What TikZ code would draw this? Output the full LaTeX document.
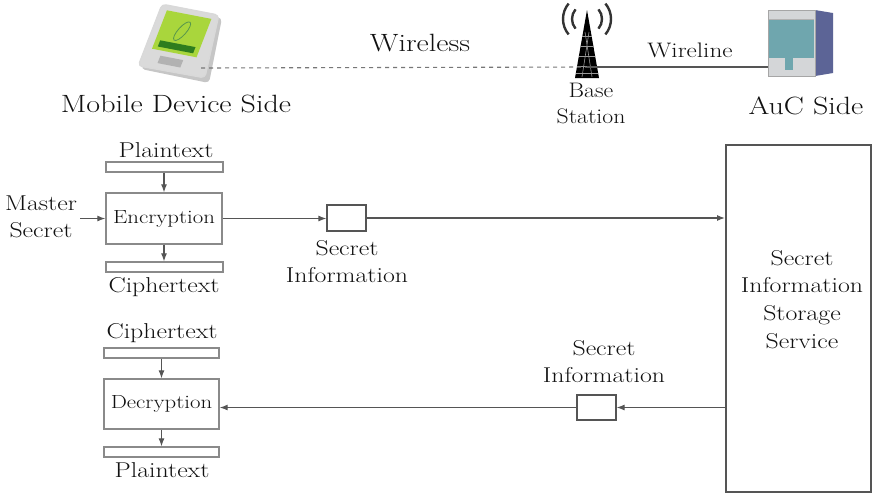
\documentclass[tikz,border=0pt]{standalone}
\usepackage{graphicx}
\usetikzlibrary{arrows.meta}
\definecolor{ink}{HTML}{111111}
\definecolor{wire}{HTML}{555555}
\definecolor{boxline}{HTML}{8A8A8A}
\definecolor{screen}{HTML}{A9D63C}
\definecolor{screendark}{HTML}{2E7D1E}
\definecolor{devbody}{HTML}{DADADA}
\definecolor{srvfront}{HTML}{D4D6D8}
\definecolor{srvteal}{HTML}{6FA6AE}
\definecolor{srvside}{HTML}{5C6496}
% widened lettering
\newcommand{\widen}[1]{\scalebox{1.2}[1]{#1}}
\newcommand{\widenb}[1]{\scalebox{1.13}[1]{#1}}
\tikzset{
  txt/.style={anchor=base, inner sep=0pt, text=ink},
  big/.style={txt, font=\fontsize{25}{30}\selectfont},
  mid/.style={txt, font=\fontsize{21.5}{26}\selectfont},
  sml/.style={txt, font=\fontsize{21}{25}\selectfont},
  boxtxt/.style={font=\fontsize{19}{23}\selectfont, text=ink},
  bar/.style={draw=boxline, line width=1.3pt, fill=white, inner sep=0pt},
  procbox/.style={draw=boxline, line width=1.3pt, fill=white, inner sep=0pt},
  databox/.style={draw=wire, line width=1.2pt, fill=white, inner sep=0pt},
  flow/.style={draw=wire, line width=1.2pt, -{Latex[length=8pt,width=6pt]}},
  link/.style={draw=wire, line width=1.2pt},
}
\begin{document}
\begin{tikzpicture}[x=1pt,y=-1pt]
\useasboundingbox[fill=white] (0,0) rectangle (874,496);

% ---- mobile device icon ----
\fill[gray!45, rounded corners=4pt] (165,7) -- (222,18) -- (209,83) -- (141,69) -- cycle;
\filldraw[fill=devbody, draw=gray!30, line width=1pt, rounded corners=4pt]
  (162,4) -- (219,15) -- (205,78) -- (138,66) -- cycle;
\fill[screen] (166.9,10.3) -- (211.4,18.9) -- (196.5,57.3) -- (152.0,48.7) -- cycle;
\fill[screendark] (160.2,40.3) -- (195.5,47.1) -- (193.1,53.3) -- (157.8,46.5) -- cycle;
\draw[screendark!80, line width=0.8pt] (182.1,31.2) ellipse[x radius=12, y radius=4, rotate=48];
\fill[gray!60] (160.4,55.7) -- (183.2,60.1) -- (180.3,67.5) -- (157.5,63.1) -- cycle;

% ---- base station tower ----
\coordinate (bs) at (587,67);
\foreach \r in {15,24}{
  \draw[gray!40!black, line width=2.4pt] (587,19) ++(180-40:\r) arc[start angle=180-40, end angle=180+40, radius=\r];
  \draw[gray!40!black, line width=2.4pt] (587,19) ++(-40:\r) arc[start angle=-40, end angle=40, radius=\r];
}
\fill[black] (587,10) -- (599,78) -- (575,78) -- cycle;
\foreach \yy in {36,46,56,66,73}{
  \draw[gray!80, line width=0.7pt] ({587-(\yy-10)*12/68},\yy) -- ({587+(\yy-10)*12/68},\yy);
}
\draw[gray!80, line width=0.6pt] (585,32) -- (592,77) (589,32) -- (582,77);

% ---- AuC server ----
\coordinate (srv) at (768,67);
\fill[srvside] (815,10) -- (833,13) -- (833,73) -- (815,76) -- cycle;
\filldraw[fill=srvfront, draw=gray!70, line width=0.8pt] (768,10) rectangle (815,76);
\fill[srvteal] (769,19) rectangle (814,58);
\fill[srvteal] (785,58) rectangle (793,70);
\draw[gray!60, line width=0.6pt] (769,19) -- (814,19);

% ---- radio links ----
\draw[wire!80, line width=1.1pt, dash pattern=on 4pt off 4pt] (201,68) -- (bs);
\draw[link, line width=1.6pt] (bs) -- (srv);

% ---- top labels ----
\node[big] (mobside) at (176,112) {\widen{Mobile Device Side}};
\node[big] (wless) at (420,51) {\widen{Wireless}};
\node[sml] (wline) at (690,57) {\widen{Wireline}};
\node[sml] (base1) at (591,97) {\widenb{Base}};
\node[sml] (base2) at (591,123) {\widenb{Station}};
\node[big] (aucside) at (806,114) {\widen{AuC Side}};

% ---- encryption side ----
\node[mid] (pt1) at (166,157) {\widen{Plaintext}};
\node[bar, minimum width=117pt, minimum height=10pt] (ptbar) at (164.5,167) {};
\node[procbox, minimum width=116pt, minimum height=51pt, boxtxt] (enc) at (164,218.5) {\widen{Encryption}};
\node[bar, minimum width=117pt, minimum height=10pt] (ctbar) at (164.5,267) {};
\node[mid] (ct1) at (164,292) {\widen{Ciphertext}};
\node[mid] (ms1) at (41,210) {\widen{Master}};
\node[mid] (ms2) at (41,237) {\widen{Secret}};
\coordinate (msin) at (80,218.5);
\node[databox, minimum width=39pt, minimum height=26pt] (sbox1) at (346.5,218) {};
\node[mid] (si1) at (347,255) {\widen{Secret}};
\node[mid] (si2) at (347,282) {\widen{Information}};

% ---- storage service ----
\node[draw=wire, line width=2pt, minimum width=145pt, minimum height=347pt, inner sep=0pt] (store) at (798.5,318.5) {};
\node[mid] (st1) at (802,265) {\widen{Secret}};
\node[mid] (st2) at (802,292) {\widen{Information}};
\node[mid] (st3) at (802,320) {\widen{Storage}};
\node[mid] (st4) at (802,348) {\widen{Service}};

% ---- decryption side ----
\node[mid] (ct2) at (162,338) {\widen{Ciphertext}};
\node[bar, minimum width=115pt, minimum height=10pt] (ctbar2) at (161.5,353) {};
\node[procbox, minimum width=115pt, minimum height=50pt, boxtxt] (dec) at (161.5,404) {\widen{Decryption}};
\node[bar, minimum width=115pt, minimum height=10pt] (ptbar2) at (161.5,452) {};
\node[mid] (pt2) at (162,477) {\widen{Plaintext}};
\node[databox, minimum width=39pt, minimum height=25pt] (sbox2) at (596.5,407.5) {};
\node[mid] (si3) at (604,355) {\widen{Secret}};
\node[mid] (si4) at (604,382) {\widen{Information}};

% ---- data flow ----
\draw[flow] (msin) -- (enc.west);
\draw[flow] (ptbar.south -| enc.north) -- (enc.north);
\draw[flow] (enc.south) -- (ctbar.north -| enc.south);
\draw[flow] (enc.east) -- (sbox1.west |- enc.east);
\draw[flow] (sbox1.east) -- (store.west |- sbox1.east);
\draw[flow] (store.west |- sbox2.east) -- (sbox2.east);
\draw[flow] (sbox2.west) -- (dec.east |- sbox2.west);
\draw[flow] (ctbar2.south -| dec.north) -- (dec.north);
\draw[flow] (dec.south) -- (ptbar2.north -| dec.south);
\end{tikzpicture}
\end{document}
